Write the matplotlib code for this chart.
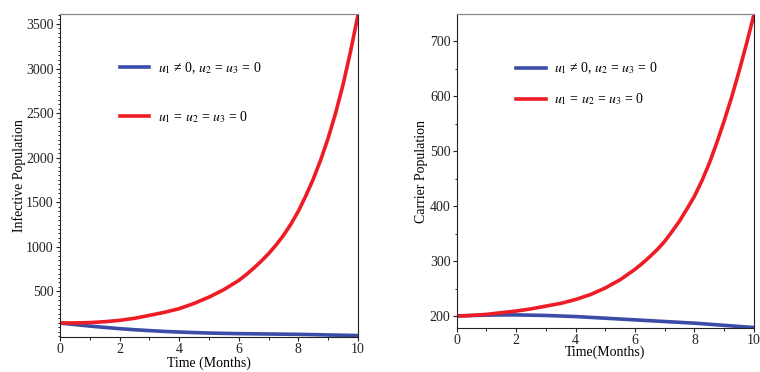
import numpy as np
import matplotlib
matplotlib.use("Agg")
import matplotlib.pyplot as plt
from matplotlib.ticker import MultipleLocator

# time in months (finer where the curves bend fast)
months = [0, 0.5, 1, 1.5, 2, 2.5, 3, 3.5, 4, 4.5, 5, 5.5, 6, 6.25, 6.5, 6.75, 7, 7.25, 7.5, 7.75,
          8, 8.25, 8.5, 8.75, 9, 9.25, 9.5, 9.75, 10]

# infective population
infective_ctrl = [145, 128, 111, 96, 82, 70, 60, 51, 44, 38, 33, 29, 26, 25, 24, 23, 22, 21, 20, 19,
                  18, 16.5, 15, 13, 11, 9.5, 8, 6.5, 5]
infective_none = [145, 146, 150, 160, 175, 198, 231, 265, 306, 365, 436, 520, 623, 688, 760, 838, 923,
                  1020, 1128, 1255, 1400, 1572, 1760, 1975, 2220, 2500, 2820, 3190, 3600]

# carrier population
carrier_ctrl = [200, 201, 201.5, 202, 202, 201.5, 201, 200, 199, 197.5, 196, 194.5, 193, 192.2, 191.5,
                190.7, 190, 189.2, 188.5, 187.7, 187, 186, 185, 184, 183, 182, 181, 180, 179]
carrier_none = [200, 201, 203, 206, 209, 213, 218, 223, 230, 239, 251, 266, 285, 296, 308, 321, 336,
                354, 373, 395, 418, 446, 478, 515, 555, 598, 645, 695, 748]

labels = [r"$u_1$ ≠ 0, $u_2$ = $u_3$ = 0", r"$u_1$ = $u_2$ = $u_3$ = 0"]
BLUE = "#3a4ca6"
RED = "#ee1c24"

plt.rcParams["font.family"] = ["Liberation Serif", "DejaVu Serif"]
plt.rcParams["mathtext.fontset"] = "stix"


def style_axes(ax, ymajor, yminor):
	"""maple-like boxed axes with outward ticks"""
	ax.xaxis.set_major_locator(MultipleLocator(2))
	ax.xaxis.set_minor_locator(MultipleLocator(1))
	ax.yaxis.set_major_locator(MultipleLocator(ymajor))
	ax.yaxis.set_minor_locator(MultipleLocator(yminor))
	ax.tick_params(which="both", direction="out", top=False, right=False, labelsize=10,
	               colors="#222222", pad=1.5)
	ax.tick_params(which="major", length=3, width=0.8)
	ax.tick_params(which="minor", length=1.8, width=0.7)
	for side in ["left", "bottom", "right"]:
		ax.spines[side].set_color("#222222")
		ax.spines[side].set_linewidth(0.8)
	ax.spines["top"].set_color("#888888")
	ax.spines["top"].set_linewidth(0.9)
	ax.set_xlim(0, 10)


def add_curves(ax, ctrl, none):
	ax.plot(months, ctrl, color=BLUE, lw=2.6, label=labels[0], solid_joinstyle="round")
	ax.plot(months, none, color=RED, lw=2.6, label=labels[1], solid_joinstyle="round")


fig = plt.figure(figsize=(7.6, 3.72), dpi=100)

ax1 = fig.add_axes([0.079, 0.094, 0.392, 0.868])
add_curves(ax1, infective_ctrl, infective_none)
style_axes(ax1, 500, 50)
ax1.set_ylim(-12, 3610)
ax1.set_yticks([500, 1000, 1500, 2000, 2500, 3000, 3500])
ax1.set_xlabel("Time (Months)", fontsize=10, labelpad=0)
ax1.set_ylabel("Infective Population", fontsize=10, labelpad=0)
ax1.legend(loc="upper left", bbox_to_anchor=(0.2, 0.858), frameon=False, fontsize=10,
           borderpad=0, borderaxespad=0, handlelength=2.15, handletextpad=0.6, labelspacing=2.4)

ax2 = fig.add_axes([0.601, 0.118, 0.391, 0.844])
add_curves(ax2, carrier_ctrl, carrier_none)
style_axes(ax2, 100, 50)
ax2.set_ylim(178, 749)
ax2.set_xlabel("Time(Months)", fontsize=10, labelpad=-1)
ax2.set_ylabel("Carrier Population", fontsize=10, labelpad=1)
ax2.legend(loc="upper left", bbox_to_anchor=(0.2, 0.852), frameon=False, fontsize=10,
           borderpad=0, borderaxespad=0, handlelength=2.15, handletextpad=0.6, labelspacing=1.1)

fig.savefig("out.png", dpi=100)
